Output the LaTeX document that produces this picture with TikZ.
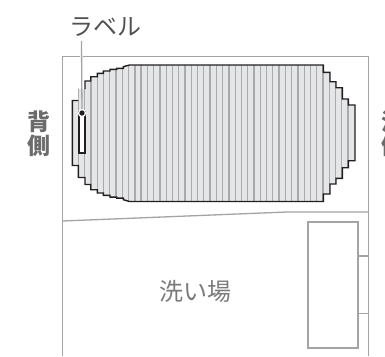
\documentclass[tikz,border=0pt]{standalone}
\usepackage{fontspec}
\newfontfamily\jpfont{Noto Sans CJK JP}
\definecolor{wallgray}{HTML}{A3A4A6}
\definecolor{slatgray}{HTML}{A9AAAC}
\definecolor{slatfill}{HTML}{E5E6E7}
\definecolor{inkdark}{HTML}{231F20}
\tikzset{
	wall/.style={draw=wallgray, line width=1.3pt},
	labeltext/.style={inner sep=0pt, text=#1, font=\jpfont\fontsize{24}{26}\selectfont},
	sidetext/.style={inner sep=0pt, align=center, text=black!58, font=\jpfont\bfseries\fontsize{23}{24}\selectfont},
}
\begin{document}
\begin{tikzpicture}[x=1pt, y=-1pt]
	\useasboundingbox (0, 0) rectangle (385, 356);
	\fill[white] (0, 0) rectangle (385, 356);

	% 壁
	\draw[wall] (62.5, 356) -- (62.5, 56.5) -- (368.5, 56.5) -- (368.5, 356);
	\draw[wall] (62.5, 221) -- (287, 212) -- (368.5, 212);

	% 組ふた
	\def\lidpath{(85, 89) -- (85, 81) -- (90.7, 81) -- (90.7, 76.7) -- (97.3, 76.7) -- (97.3, 73.3) -- (103.3, 73.3) -- (103.3, 71) -- (110, 71) -- (110, 69.3) -- (116.7, 69.3) -- (116.7, 68.3) -- (123.3, 68.3) -- (123.3, 66.7) -- (129.5, 65) -- (323.3, 65) -- (323.3, 72.3) -- (330, 72.3) -- (330, 81.7) -- (336, 81.7) -- (336, 87.7) -- (342.3, 87.7) -- (342.3, 99) -- (348.3, 99) -- (348.3, 105) -- (355, 105) -- (355, 160.7) -- (348.3, 160.7) -- (348.3, 167.7) -- (342.3, 167.7) -- (342.3, 178.3) -- (336, 178.3) -- (336, 184) -- (330, 184) -- (330, 194) -- (323.3, 194) -- (323.3, 201.5) -- (129.5, 201.5) -- (123.3, 199.7) -- (123.3, 198.1) -- (116.7, 198.1) -- (116.7, 197.1) -- (110, 197.1) -- (110, 195.4) -- (103.3, 195.4) -- (103.3, 193) -- (97.3, 193) -- (97.3, 189.7) -- (90.7, 189.7) -- (90.7, 184.5) -- (85, 184.5) -- (85, 177.5) -- (78.4, 177.5) -- (78.4, 165.5) -- (72.3, 165.5) -- (72.3, 100.5) -- (78.4, 100.5)}
	\fill[slatfill] \lidpath -- (78.4, 88.5) -- cycle;
	\begin{scope}
		\clip \lidpath -- (77.7, 88.5) -- cycle;
		\foreach \k in {-5,...,38}
			\draw[slatgray, line width=1.3pt] ({316.7-\k*6.27}, 60) -- ({316.7-\k*6.27}, 206);
	\end{scope}
	\draw[inkdark, line width=1.4pt] \lidpath;

	% 浴槽内のラベル
	\draw[inkdark, line width=1.3pt, fill=white] (79, 112) rectangle (85, 153);
	\draw[white, line width=3.5pt] (81.5, 54) -- (81.5, 59);
	\node[circle, fill=inkdark, draw=white, line width=1.3pt, inner sep=0pt, minimum size=7pt] (dot) at (82, 113) {};
	\node[labeltext=black!68] (label) at (105.5, 27) {ラベル};
	\coordinate (leader) at (81.5, 41);
	\draw[wallgray, line width=1.3pt] (leader) -- (dot);

	% 洗い場
	\node[labeltext=black!52] (floor) at (195, 291) {洗い場};
	\draw[wall] (308, 222) rectangle (358, 348);
	\coordinate (stepa) at (358, 256);
	\coordinate (stepb) at (368.5, 256);
	\coordinate (stepc) at (358, 313.5);
	\coordinate (stepd) at (368.5, 313.5);
	\draw[wall] (stepa) -- (stepb);
	\draw[wall] (stepc) -- (stepd);

	% 側面の文字
	\node[sidetext] (back) at (39, 133.5) {背\\側};
	\node[sidetext] (front) at (393, 133.5) {洗\\側};
\end{tikzpicture}
\end{document}
